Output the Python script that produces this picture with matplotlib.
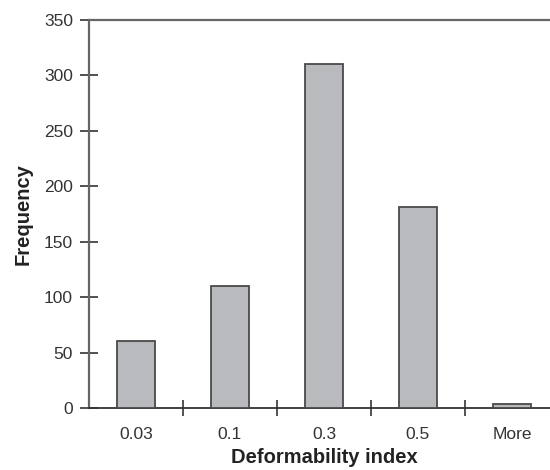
import matplotlib
matplotlib.use("Agg")
import matplotlib.pyplot as plt
import numpy as np

categories = ["0.03", "0.1", "0.3", "0.5", "More"]
frequency = [60, 110, 310, 181, 4]

plt.rcParams['font.family'] = ['Liberation Sans', 'DejaVu Sans']

fig = plt.figure(figsize=(5.5, 4.7), dpi=100)
W, H = 550, 470
left, right, top, bottom = 89, 559, 20, 408
ax = fig.add_axes([left / W, 1 - bottom / H, (right - left) / W, (bottom - top) / H])

x = np.arange(len(categories))
ax.bar(x, frequency, width=0.4, color="#b9babe", edgecolor="#4a4a4a", linewidth=1.3, zorder=3)

ax.set_xlim(-0.5, len(categories) - 0.5)
ax.set_ylim(0, 350)
ax.set_yticks(np.arange(0, 351, 50))
ax.set_xticks(x)
ax.set_xticklabels(categories)
ax.set_xticks(np.arange(0.5, len(categories) - 0.5, 1.0), minor=True)
ax.tick_params(axis='x', which='major', length=0, pad=14, labelsize=12.5, labelcolor="#333333")
ax.tick_params(axis='x', which='minor', direction='inout', length=11, width=1.2, color="#333333")
ax.tick_params(axis='y', direction='inout', length=13, width=1.2, color="#333333", pad=5,
               labelsize=12.5, labelcolor="#333333")

for s in ['left', 'top']:
    ax.spines[s].set_color("#666666")
    ax.spines[s].set_linewidth(1.6)
ax.spines['bottom'].set_color("#333333")
ax.spines['bottom'].set_linewidth(1.3)
ax.spines['right'].set_visible(False)

ax.set_ylabel("Frequency", fontsize=14.5, fontweight='bold', color="#222222", labelpad=8)
ax.set_xlabel("Deformability index", fontsize=14.5, fontweight='bold', color="#222222", labelpad=4)

fig.savefig("out.png", dpi=100)
